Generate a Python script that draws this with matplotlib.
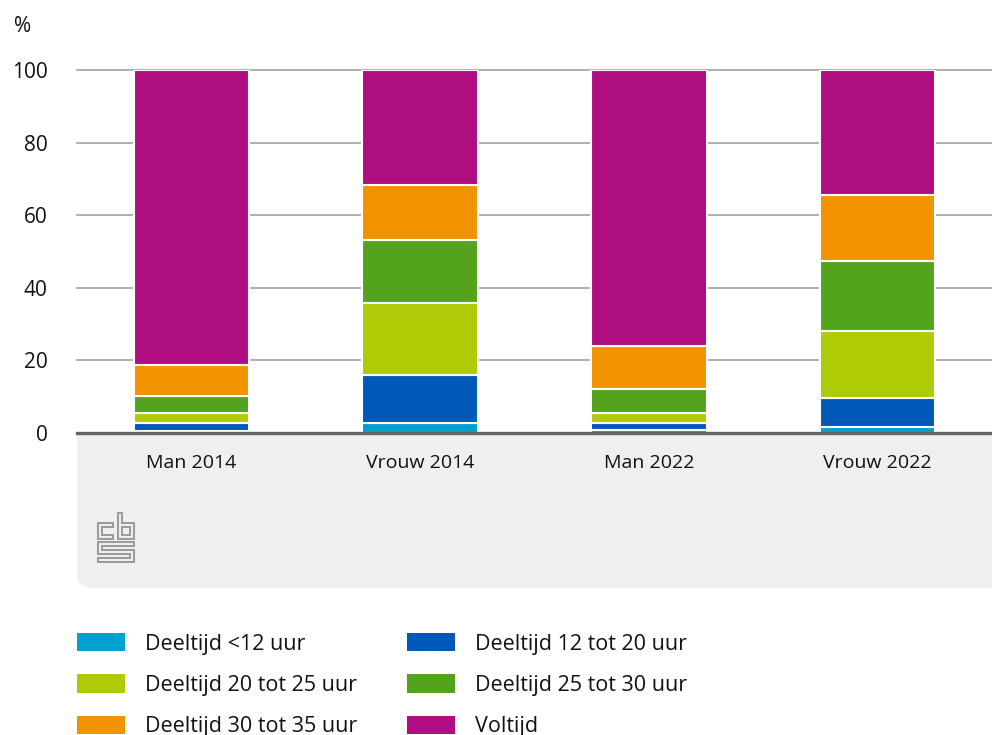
import matplotlib.pyplot as plt
import numpy as np
from matplotlib.patches import FancyBboxPatch, Patch, Polygon

plt.rcParams['font.family'] = ['Open Sans', 'DejaVu Sans']

# data (percent of workers)
groepen = ["Man 2014", "Vrouw 2014", "Man 2022", "Vrouw 2022"]
lt12 = [0.6, 2.7, 0.8, 1.6]
u12_20 = [2.1, 13.4, 1.9, 8.0]
u20_25 = [2.7, 19.6, 2.7, 18.6]
u25_30 = [4.8, 17.6, 6.8, 19.2]
u30_35 = [8.5, 14.9, 11.8, 18.2]
voltijd = [81.3, 31.8, 76.0, 34.4]

reeksen = [lt12, u12_20, u20_25, u25_30, u30_35, voltijd]
namen = ["Deeltijd <12 uur", "Deeltijd 12 tot 20 uur", "Deeltijd 20 tot 25 uur",
         "Deeltijd 25 tot 30 uur", "Deeltijd 30 tot 35 uur", "Voltijd"]
kleuren = ["#00a1cd", "#0058b8", "#afcb05", "#53a31d", "#f39200", "#af0e80"]

W, H = 992, 735
fig = plt.figure(figsize=(W / 100, H / 100), dpi=100)

# grey panel under the axis (rounded bottom-left corner)
panel = FancyBboxPatch((77 / W, (H - 588) / H), 960 / W, 200 / H,
                       boxstyle="round,pad=0,rounding_size=0.018",
                       transform=fig.transFigure, facecolor="#efefef",
                       edgecolor="none", zorder=-5)
fig.patches.append(panel)

ax = fig.add_axes([77 / W, (H - 433) / H, 915 / W, 363 / H])
x = np.arange(len(groepen))
bottom = np.zeros(len(groepen))
for vals, naam, kleur in zip(reeksen, namen, kleuren):
    ax.bar(x, vals, width=0.505, bottom=bottom, color=kleur, edgecolor="white",
           linewidth=1.5, label=naam, zorder=3)
    bottom += np.array(vals)

ax.set_xlim(-0.5, 3.5)
ax.set_ylim(0, 100)
ax.set_yticks([0, 20, 40, 60, 80, 100])
ax.yaxis.grid(True, color="#9a9a9a", linewidth=1.1, zorder=0)
for l in ax.get_ygridlines():
    l.set_clip_on(False)
ax.axhline(0, color="#666666", linewidth=2.4, zorder=4, clip_on=False)
for s in ax.spines.values():
    s.set_visible(False)
ax.tick_params(axis="y", length=0, pad=21, labelsize=15, labelcolor="#111111")
ax.tick_params(axis="x", length=0, pad=15, labelsize=14, labelcolor="#111111")
ax.set_xticks(x)
ax.set_xticklabels(groepen)
fig.text(14 / W, 1 - 27 / H, "%", fontsize=15, color="#111111", va="center")

# cbs logo (rough outline)
lc = "#9a9a9a"
def vorm(pts):
    fig.patches.append(Polygon([(px / W, 1 - py / H) for px, py in pts],
                               closed=True, transform=fig.transFigure,
                               fill=False, edgecolor=lc, linewidth=1.4))
vorm([(113, 523), (98, 523), (98, 539), (113, 539), (113, 535),
      (102, 535), (102, 527), (113, 527)])
vorm([(118, 513), (122, 513), (122, 523), (134, 523), (134, 539), (118, 539)])
vorm([(122, 527), (130, 527), (130, 535), (122, 535)])
vorm([(98, 542), (134, 542), (134, 546), (102, 546), (102, 550), (134, 550),
      (134, 562), (98, 562), (98, 558), (130, 558), (130, 554), (98, 554)])

# legend
order = [0, 2, 4, 1, 3, 5]
handles = [Patch(facecolor=kleuren[i], edgecolor="none") for i in order]
labels = [namen[i] for i in order]
fig.legend(handles, labels, ncol=2, loc="upper left",
           bbox_to_anchor=(77 / W, 1 - 633 / H), frameon=False,
           fontsize=15.5, handlelength=2.23, handleheight=0.93,
           handletextpad=0.93, columnspacing=2.3, labelspacing=0.92,
           borderaxespad=0, borderpad=0, labelcolor="#111111")

fig.savefig("out.png", dpi=100)
